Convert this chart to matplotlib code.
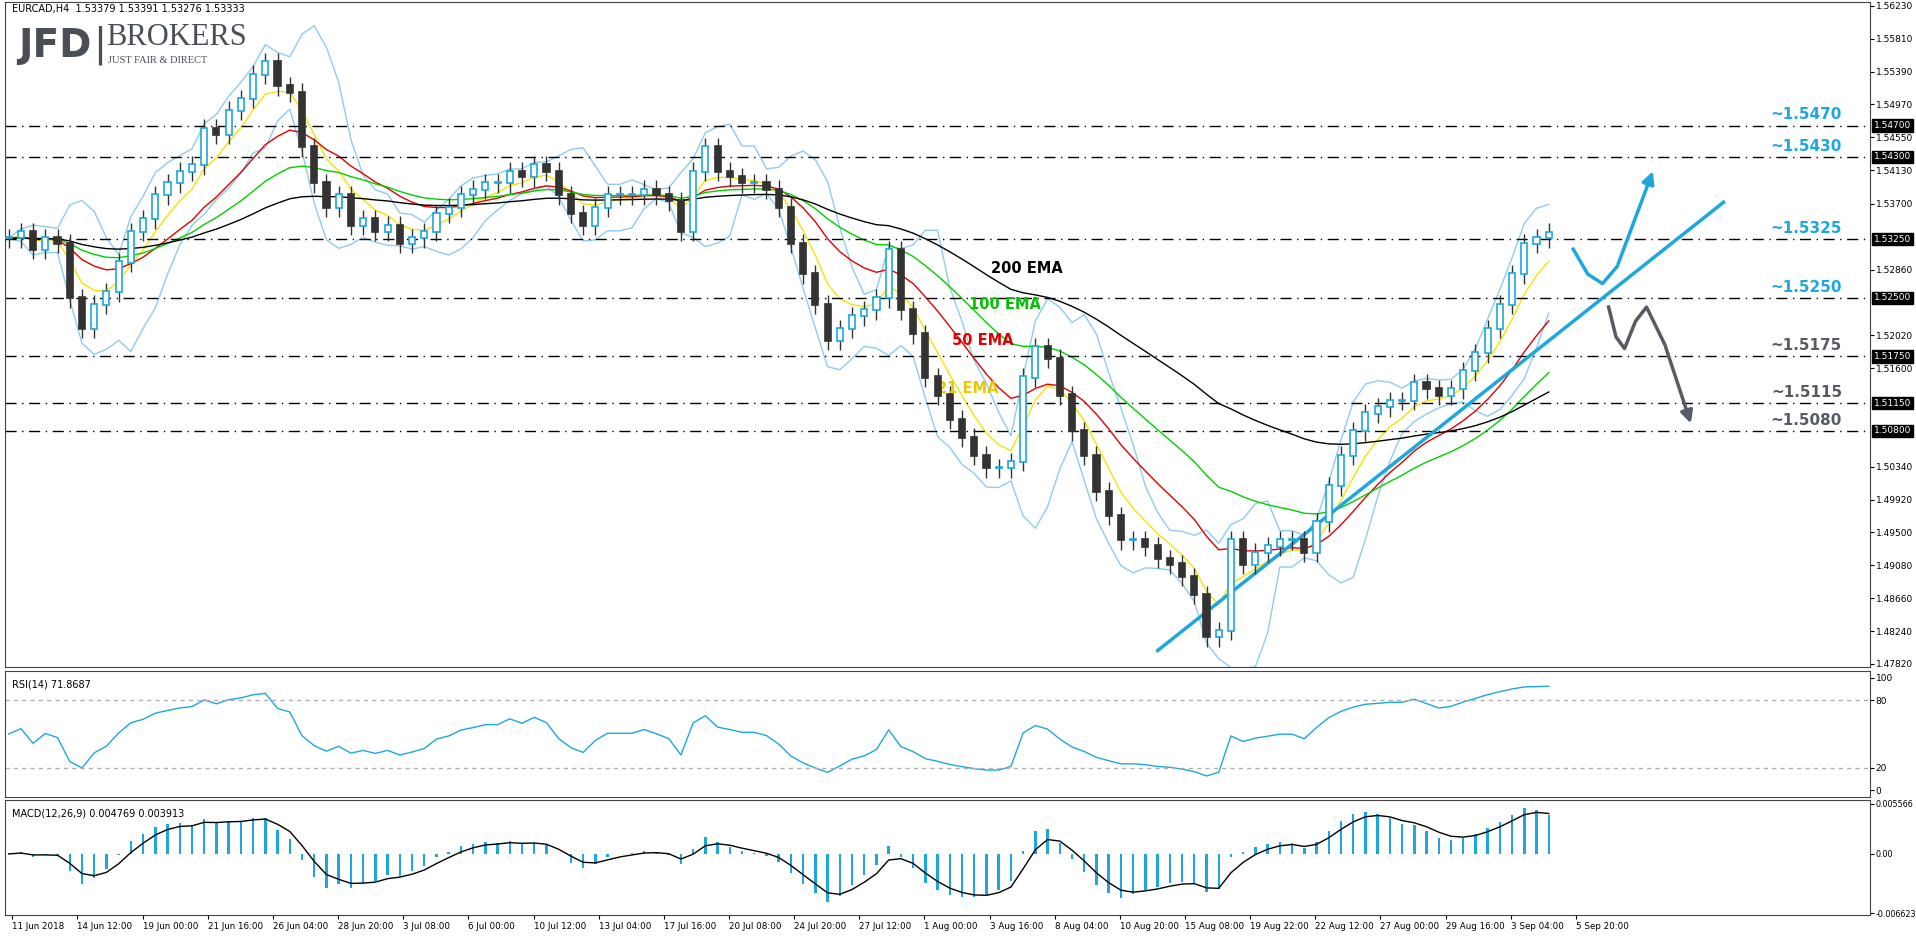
import matplotlib
matplotlib.use("Agg")
import matplotlib.pyplot as plt
import numpy as np

# closes sampled roughly every 12h along the chart (EURCAD H4)
closes = [1.5326, 1.5334, 1.5311, 1.5326, 1.5319, 1.5249, 1.5210, 1.5241, 1.5257, 1.5295,
          1.5334, 1.5350, 1.5381, 1.5396, 1.5411, 1.5419, 1.5466, 1.5458, 1.5489, 1.5504,
          1.5535, 1.5551, 1.5520, 1.5512, 1.5442, 1.5396, 1.5365, 1.5381, 1.5342, 1.5350,
          1.5334, 1.5342, 1.5319, 1.5326, 1.5334, 1.5357, 1.5365, 1.5381, 1.5388, 1.5396,
          1.5396, 1.5411, 1.5404, 1.5419, 1.5411, 1.5381, 1.5357, 1.5342, 1.5365, 1.5381,
          1.5381, 1.5381, 1.5388, 1.5381, 1.5373, 1.5334, 1.5411, 1.5442, 1.5411, 1.5404,
          1.5396, 1.5396, 1.5388, 1.5365, 1.5319, 1.5280, 1.5241, 1.5195, 1.5210, 1.5226,
          1.5234, 1.5249, 1.5311, 1.5234, 1.5203, 1.5148, 1.5125, 1.5094, 1.5071, 1.5048,
          1.5032, 1.5032, 1.5040, 1.5148, 1.5187, 1.5172, 1.5125, 1.5079, 1.5048, 1.5002,
          1.4971, 1.4940, 1.4940, 1.4932, 1.4916, 1.4909, 1.4893, 1.4870, 1.4816, 1.4824,
          1.4940, 1.4909, 1.4924, 1.4932, 1.4940, 1.4940, 1.4924, 1.4963, 1.5009, 1.5048,
          1.5079, 1.5102, 1.5110, 1.5118, 1.5118, 1.5141, 1.5133, 1.5125, 1.5133, 1.5156,
          1.5179, 1.5210, 1.5241, 1.5280, 1.5319, 1.5326, 1.5333]
wick = 0.0012

levels = [1.5470, 1.5430, 1.5325, 1.5250, 1.5175, 1.5115, 1.5080]
level_labels = ["~1.5470", "~1.5430", "~1.5325", "~1.5250", "~1.5175", "~1.5115", "~1.5080"]
level_boxes = ["1.54700", "1.54300", "1.53250", "1.52500", "1.51750", "1.51150", "1.50800"]

price_ticks = [1.56230, 1.55810, 1.55390, 1.54970, 1.54550, 1.54130, 1.53700, 1.52860,
               1.52020, 1.51600, 1.50340, 1.49920, 1.49500, 1.49080, 1.48660, 1.48240, 1.47820]
date_labels = ["11 Jun 2018", "14 Jun 12:00", "19 Jun 00:00", "21 Jun 16:00", "26 Jun 04:00",
               "28 Jun 20:00", "3 Jul 08:00", "6 Jul 00:00", "10 Jul 12:00", "13 Jul 04:00",
               "17 Jul 16:00", "20 Jul 08:00", "24 Jul 20:00", "27 Jul 12:00", "1 Aug 00:00",
               "3 Aug 16:00", "8 Aug 04:00", "10 Aug 20:00", "15 Aug 08:00", "19 Aug 22:00",
               "22 Aug 12:00", "27 Aug 00:00", "29 Aug 16:00", "3 Sep 04:00", "5 Sep 20:00"]

trend_x = [94.0, 140.3]
trend_y = [1.4799, 1.5372]
up_x = [128.0, 129.2, 130.4, 131.6, 134.6]
up_y = [1.5312, 1.5280, 1.5268, 1.5290, 1.5415]
down_x = [130.9, 131.5, 132.2, 133.1, 134.0, 135.5, 137.7]
down_y = [1.5238, 1.5200, 1.5185, 1.5220, 1.5238, 1.5190, 1.5086]

CYAN = "#1ca8dd"
GRAY = "#555c66"

c = np.array(closes)
o = np.r_[c[0], c[:-1]]
hi = np.maximum(o, c) + wick
lo = np.minimum(o, c) - wick
n = len(c)
x = np.arange(n)


def ema(v, span):
    a = 2 / (span + 1)
    out = np.empty_like(v)
    out[0] = v[0]
    for i in range(1, len(v)):
        out[i] = a * v[i] + (1 - a) * out[i - 1]
    return out


fig = plt.figure(figsize=(19.16, 9.36), dpi=100)
ax = fig.add_axes([0.0026, 0.2874, 0.9735, 0.7105])
ax_rsi = fig.add_axes([0.0026, 0.1485, 0.9735, 0.1346], sharex=ax)
ax_macd = fig.add_axes([0.0026, 0.0224, 0.9735, 0.1229], sharex=ax)

# bollinger
k = 5
mid = np.array([c[max(0, i - k + 1):i + 1].mean() for i in range(n)])
sd = np.array([c[max(0, i - k + 1):i + 1].std() for i in range(n)])
for band in (mid + 2 * sd, mid - 2 * sd):
    ax.plot(x, band, color="#8ecbf0", lw=1)

ax.plot(x, ema(c, 5), color="#f5e400", lw=1)
ax.plot(x, ema(c, 13), color="#e00000", lw=1)
ax.plot(x, ema(c, 25), color="#00d000", lw=1)
ax.plot(x, ema(c, 50), color="black", lw=1)

for i in range(n):
    bull = c[i] >= o[i]
    ax.vlines(x[i], lo[i], hi[i], color="#333333", lw=1, zorder=3)
    ax.bar(x[i], abs(c[i] - o[i]) + 0.00015, bottom=min(o[i], c[i]), width=0.5,
           color="white" if bull else "#333333", edgecolor=CYAN if bull else "#333333",
           lw=1.2, zorder=4)

for lv, lab, box, i in zip(levels, level_labels, level_boxes, range(len(levels))):
    ax.axhline(lv, color="black", lw=1, ls=(0, (8, 4, 1, 4)))
    ax.text(150.0, lv + 0.0004, lab, ha="right", va="bottom", fontsize=11, fontweight="bold",
            color=CYAN if i < 4 else GRAY)
    ax.text(1.002, lv, box, transform=ax.get_yaxis_transform(), ha="left", va="center",
            fontsize=6.5, color="white", bbox=dict(fc="black", ec="black", pad=1.2))

ax.plot(trend_x, trend_y, color=CYAN, lw=2.5)
ax.plot(up_x[:-1], up_y[:-1], color=CYAN, lw=2.5)
ax.annotate("", xy=(up_x[-1], up_y[-1]), xytext=(up_x[-2], up_y[-2]),
            arrowprops=dict(arrowstyle="-|>", color=CYAN, lw=2.5, mutation_scale=18))
ax.plot(down_x[:-1], down_y[:-1], color=GRAY, lw=2.5)
ax.annotate("", xy=(down_x[-1], down_y[-1]), xytext=(down_x[-2], down_y[-2]),
            arrowprops=dict(arrowstyle="-|>", color=GRAY, lw=2.5, mutation_scale=18))

ax.text(83.3, 1.5282, "200 EMA", color="black", fontsize=10.5, fontweight="bold", ha="center")
ax.text(81.5, 1.5235, "100 EMA", color="#00c000", fontsize=10.5, fontweight="bold", ha="center")
ax.text(79.7, 1.5190, "50 EMA", color="#e00000", fontsize=10.5, fontweight="bold", ha="center")
ax.text(78.5, 1.5128, "21 EMA", color="#e8c800", fontsize=10.5, fontweight="bold", ha="center")

ax.text(0.004, 0.997, "EURCAD,H4  1.53379 1.53391 1.53276 1.53333", transform=ax.transAxes,
        fontsize=7, va="top")
ax.text(0.007, 0.905, "JFD", transform=ax.transAxes, fontsize=28, fontweight="bold",
        color="#4a4f57", va="bottom")
ax.text(0.047, 0.905, "|", transform=ax.transAxes, fontsize=28, color="#4a4f57", va="bottom")
ax.text(0.054, 0.925, "BROKERS", transform=ax.transAxes, fontsize=22, family="Liberation Serif",
        color="#4a4f57", va="bottom")
ax.text(0.055, 0.905, "JUST FAIR & DIRECT", transform=ax.transAxes, fontsize=7.5,
        family="Liberation Serif", color="#4a4f57", va="bottom")

ax.set_ylim(1.4778, 1.5628)
ax.set_xlim(-0.3, 152.3)

# RSI
d = np.diff(c, prepend=c[0])
up = np.clip(d, 0, None)
dn = np.clip(-d, 0, None)
au = ema(np.r_[0.0005, up[1:]], 16)
ad = ema(np.r_[0.0005, dn[1:]], 16)
rsi = 100 * au / (au + ad)
ax_rsi.plot(x, rsi, color=CYAN, lw=1)
for lvl in (80, 20):
    ax_rsi.axhline(lvl, color="#b0b0b0", lw=1, ls=(0, (3, 3)))
ax_rsi.set_ylim(-6, 106)
ax_rsi.set_yticks([100, 80, 20, 0])
ax_rsi.text(0.004, 0.93, "RSI(14) 71.8687", transform=ax_rsi.transAxes, fontsize=7, va="top")

# MACD
macd = ema(c, 3) - ema(c, 7)
sig = ema(macd, 3)
ax_macd.bar(x, macd, width=0.2, color=CYAN)
ax_macd.plot(x, sig, color="black", lw=1)
ax_macd.set_ylim(-0.0068, 0.0060)
ax_macd.set_yticks([0.005566, 0.0, -0.006623])
ax_macd.set_yticklabels(["0.005566", "0.00", "-0.006623"])
ax_macd.text(0.004, 0.93, "MACD(12,26,9) 0.004769 0.003913", transform=ax_macd.transAxes,
             fontsize=7, va="top")

ax.set_yticks(price_ticks)
ax.set_yticklabels([f"{p:.5f}" for p in price_ticks])
for a in (ax, ax_rsi, ax_macd):
    a.yaxis.tick_right()
    a.tick_params(axis="y", labelsize=6.5, length=3, pad=1)
    a.tick_params(axis="x", length=3, labelsize=6.3, pad=2)
    for s in a.spines.values():
        s.set_color("#444444")
ax_macd.tick_params(axis="y", labelsize=5.8)
plt.setp(ax.get_xticklabels(), visible=False)
plt.setp(ax_rsi.get_xticklabels(), visible=False)
ticks = [0.3 + 5.33 * i for i in range(len(date_labels))]
ax_macd.set_xticks(ticks)
ax_macd.set_xticklabels(date_labels, ha="left")
ax.tick_params(axis="x", length=0)
ax_rsi.tick_params(axis="x", length=0)

fig.savefig("out.png", dpi=100)
